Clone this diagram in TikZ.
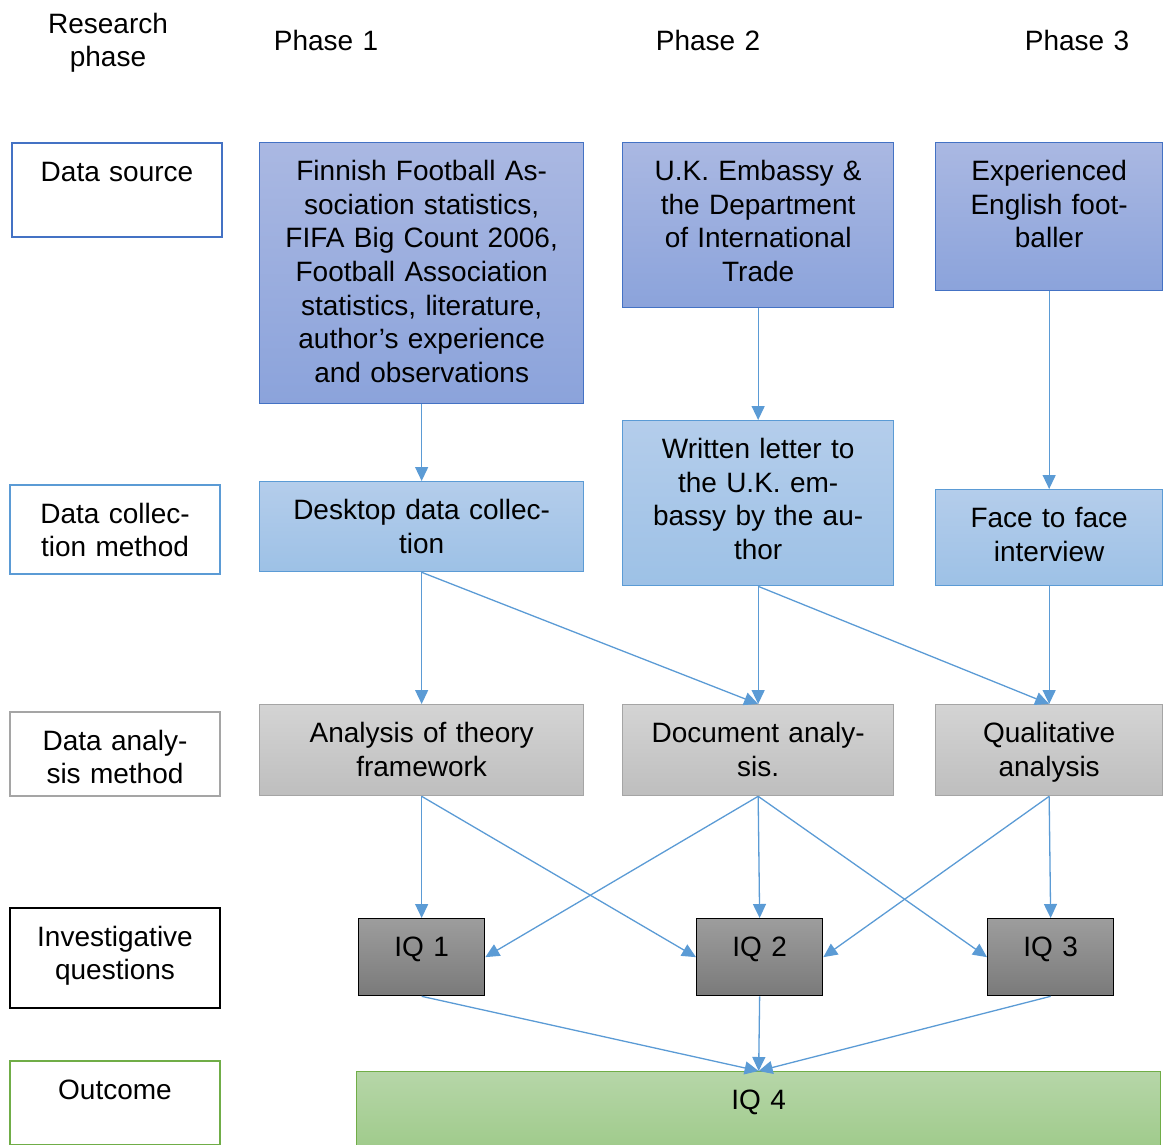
\documentclass[tikz,border=0pt]{standalone}
\usepackage{fontspec}
\setmainfont{Liberation Sans}
\usetikzlibrary{arrows.meta}
\definecolor{edgeblue}{RGB}{68,114,196}
\definecolor{linkblue}{RGB}{91,155,213}
\definecolor{srctop}{RGB}{170,184,226}
\definecolor{srcbot}{RGB}{139,163,219}
\definecolor{coltop}{RGB}{180,205,235}
\definecolor{colbot}{RGB}{157,193,230}
\definecolor{anatop}{RGB}{212,212,212}
\definecolor{anabot}{RGB}{190,190,190}
\definecolor{edgegray}{RGB}{165,165,165}
\definecolor{iqtop}{RGB}{157,157,157}
\definecolor{iqbot}{RGB}{122,122,122}
\definecolor{outtop}{RGB}{182,214,168}
\definecolor{outbot}{RGB}{160,203,140}
\definecolor{edgegreen}{RGB}{112,173,71}
\newcommand{\boxfont}{\fontsize{28}{33.6}\selectfont}
\tikzset{
  cell/.style 2 args={anchor=north west,inner sep=0pt,align=center,
    text width=#1pt,text height=38pt,text depth=#2pt,font=\boxfont},
  head/.style={anchor=base,align=center,text width=220pt,font=\boxfont},
  rowlabel/.style={draw=#1,line width=2pt,fill=white},
  srcbox/.style={draw=edgeblue,line width=1.3pt,top color=srctop,bottom color=srcbot},
  colbox/.style={draw=linkblue,line width=1.3pt,top color=coltop,bottom color=colbot},
  anabox/.style={draw=edgegray,line width=1.3pt,top color=anatop,bottom color=anabot},
  iqbox/.style={draw=black,line width=1.3pt,top color=iqtop,bottom color=iqbot},
  outbox/.style={draw=edgegreen,line width=1.3pt,top color=outtop,bottom color=outbot},
  link/.style={linkblue,line width=1.3pt,-{Triangle[length=14pt,width=13pt]}}
}
\begin{document}
\begin{tikzpicture}[x=1pt,y=-1pt]
 \useasboundingbox (0,0) rectangle (1164,1144);
 % column heads
 \node[head] (hdr0) at (108,33) {Research\\phase};
 \node[head] (hdr1) at (326,50) {Phase 1};
 \node[head] (hdr2) at (708,50) {Phase 2};
 \node[head] (hdr3) at (1077,50) {Phase 3};
 % row labels
 \node[cell={210}{56},rowlabel=edgeblue] (srcL) at (11,142) {Data source};
 \node[cell={210}{51},rowlabel=linkblue] (colL) at (9,484) {Data collec-\\tion method};
 \node[cell={210}{46},rowlabel=edgegray] (anaL) at (9,711) {Data analy-\\sis method};
 \node[cell={210}{62},rowlabel=black] (iqL) at (9,907) {Investigative\\questions};
 \node[cell={210}{46},rowlabel=edgegreen] (outL) at (9,1060) {Outcome};
 % data sources
 \node[cell={324}{223},srcbox] (src1) at (259,142) {Finnish Football As-\\sociation statistics,\\FIFA Big Count 2006,\\Football Association\\statistics, literature,\\author's experience\\and observations};
 \node[cell={271}{127},srcbox] (src2) at (622,142) {U.K. Embassy \&\\the Department\\of International\\Trade};
 \node[cell={227}{110},srcbox] (src3) at (935,142) {Experienced\\English foot-\\baller};
 % collection methods
 \node[cell={324}{52},colbox] (col1) at (259,481) {Desktop data collec-\\tion};
 \node[cell={271}{127},colbox] (col2) at (622,420) {Written letter to\\the U.K. em-\\bassy by the au-\\thor};
 \node[cell={227}{58},colbox] (col3) at (935,489) {Face to face\\interview};
 % analysis methods
 \node[cell={324}{53},anabox] (ana1) at (259,704) {Analysis of theory\\framework};
 \node[cell={271}{53},anabox] (ana2) at (622,704) {Document analy-\\sis.};
 \node[cell={227}{53},anabox] (ana3) at (935,704) {Qualitative\\analysis};
 % questions
 \node[cell={126}{39},iqbox] (iq1) at (358,918) {IQ 1};
 \node[cell={126}{39},iqbox] (iq2) at (696,918) {IQ 2};
 \node[cell={126}{39},iqbox] (iq3) at (987,918) {IQ 3};
 \node[cell={804}{37},outbox] (iq4) at (356,1071) {IQ 4};
 % connectors
 \foreach \from/\to in {src1.south/col1.north,src2.south/col2.north,src3.south/col3.north,
   col1.south/ana1.north,col1.south/ana2.north,col2.south/ana2.north,col2.south/ana3.north,
   col3.south/ana3.north,ana1.south/iq1.north,ana1.south/iq2.west,ana2.south/iq1.east,
   ana2.south/iq2.north,ana2.south/iq3.west,ana3.south/iq2.east,ana3.south/iq3.north,
   iq1.south/iq4.north,iq2.south/iq4.north,iq3.south/iq4.north}
   \draw[link] (\from) -- (\to);
\end{tikzpicture}
\end{document}
